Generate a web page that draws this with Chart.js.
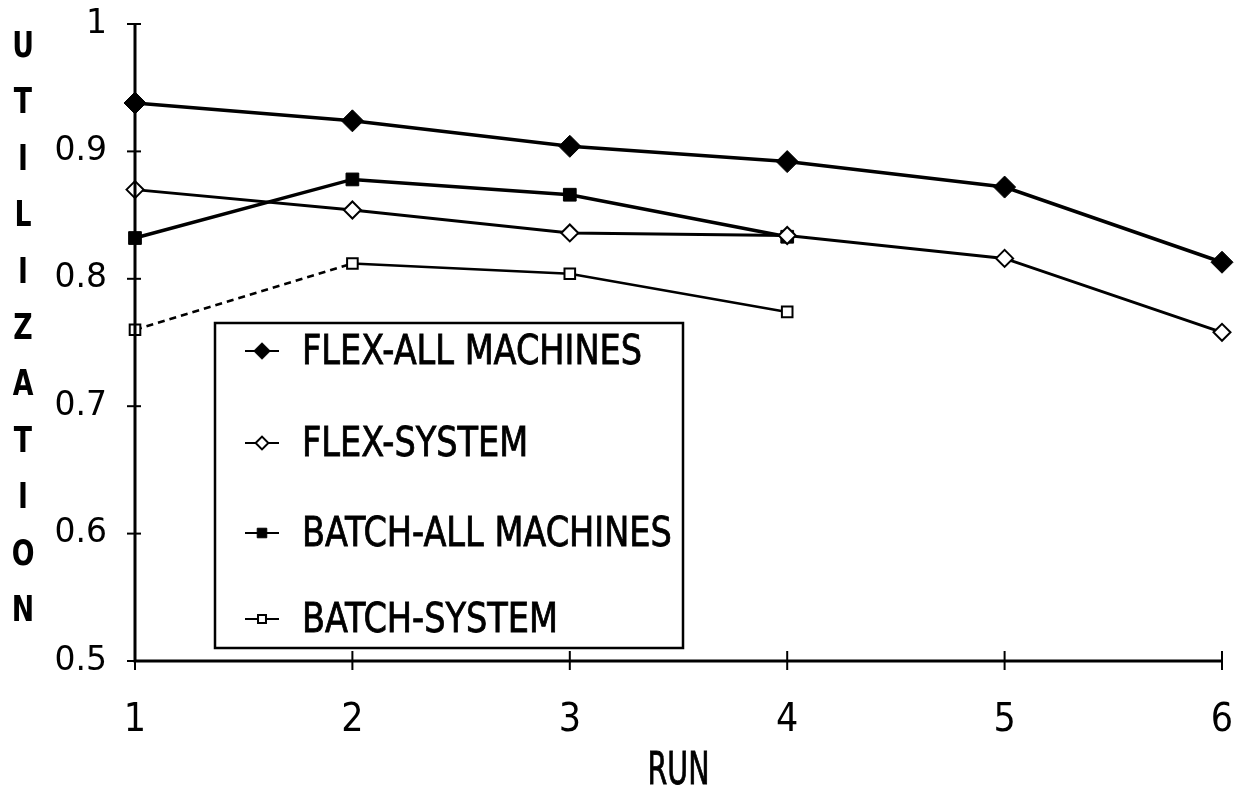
<!DOCTYPE html>
<html>
<head>
<meta charset="utf-8">
<title>Utilization by run</title>
<script src="https://cdn.jsdelivr.net/npm/chart.js@4"></script>
<style>
  html, body { margin: 0; padding: 0; background: #ffffff; }
  canvas { display: block; }
</style>
</head>
<body>
<canvas id="chart" width="1244" height="800"></canvas>
<script>
// Run numbers along the horizontal axis
const runs = [1, 2, 3, 4, 5, 6];

// Utilization per run for each schedule
const flexAllMachines   = [0.938, 0.924, 0.904, 0.892, 0.872, 0.813];
const flexSystem        = [0.870, 0.854, 0.836, 0.834, 0.816, 0.758];
const batchAllMachines  = [0.832, 0.878, 0.866, 0.833];
const batchSystem       = [0.760, 0.812, 0.804, 0.774];

// Axis texts
const yTitleText = 'UTILIZATION';
const xTitleText = 'RUN';
const seriesNames = ['FLEX-ALL MACHINES', 'FLEX-SYSTEM', 'BATCH-ALL MACHINES', 'BATCH-SYSTEM'];

const NARROW = '"Liberation Sans Narrow", "DejaVu Sans Condensed", "Arial Narrow", sans-serif';
const INK = '#000000';

function toPoints(values) {
  return values.map((v, i) => ({ x: runs[i], y: v }));
}

// Draws text squeezed horizontally so it keeps its height but fits a narrower width
function squeezedText(ctx, text, x, y, squeeze, weight) {
  ctx.save();
  ctx.translate(x, y);
  ctx.scale(squeeze, 1);
  ctx.fillText(text, 0, 0);
  if (weight) {
    ctx.lineWidth = weight;
    ctx.strokeStyle = ctx.fillStyle;
    ctx.strokeText(text, 0, 0);
  }
  ctx.restore();
}

// Axis lines with tick marks crossing them, the stacked titles and the boxed legend
const decorations = {
  id: 'decorations',
  afterDraw(chart) {
    const ctx = chart.ctx;
    const area = chart.chartArea;
    const xs = chart.scales.x;
    const ys = chart.scales.y;
    ctx.save();
    ctx.strokeStyle = INK;
    ctx.lineCap = 'butt';

    // axes
    ctx.lineWidth = 3;
    ctx.beginPath();
    ctx.moveTo(area.left, ys.getPixelForValue(1));
    ctx.lineTo(area.left, ys.getPixelForValue(0.5));
    ctx.lineTo(xs.getPixelForValue(6), ys.getPixelForValue(0.5));
    ctx.stroke();

    // tick marks across the axes
    ctx.lineWidth = 2;
    ys.ticks.forEach(t => {
      const py = ys.getPixelForValue(t.value);
      ctx.beginPath();
      ctx.moveTo(area.left - 8, py);
      ctx.lineTo(area.left + 6, py);
      ctx.stroke();
    });
    xs.ticks.forEach(t => {
      const px = xs.getPixelForValue(t.value);
      ctx.beginPath();
      ctx.moveTo(px, ys.getPixelForValue(0.5) - 10);
      ctx.lineTo(px, ys.getPixelForValue(0.5) + 9);
      ctx.stroke();
    });

    // vertical title, one letter per line
    ctx.fillStyle = INK;
    ctx.font = 'bold 35px ' + NARROW;
    ctx.textAlign = 'center';
    ctx.textBaseline = 'middle';
    const letters = yTitleText.split('');
    const firstY = 48, lastY = 612;
    const step = (lastY - firstY) / (letters.length - 1);
    letters.forEach((ch, i) => {
      squeezedText(ctx, ch, 23, firstY + i * step, 0.85);
    });

    // horizontal title, narrow and tall
    ctx.font = '44px ' + NARROW;
    squeezedText(ctx, xTitleText, (area.left + area.right) / 2, 773, 0.72, 0.8);

    // legend box
    const boxL = area.left + 80, boxT = area.top + 299;
    const boxR = area.left + 548, boxB = area.top + 624;
    ctx.lineWidth = 2.5;
    ctx.strokeStyle = INK;
    ctx.strokeRect(boxL, boxT, boxR - boxL, boxB - boxT);

    const rowY = [327, 419, 509, 595].map(v => v + area.top);
    ctx.font = '41px ' + NARROW;
    ctx.textAlign = 'left';
    chart.data.datasets.forEach((ds, i) => {
      const cy = rowY[i];
      const cx = boxL + 47;
      ctx.lineWidth = 2;
      ctx.strokeStyle = INK;
      ctx.setLineDash([]);
      ctx.beginPath();
      ctx.moveTo(cx - 17, cy);
      ctx.lineTo(cx + 17, cy);
      ctx.stroke();
      ctx.fillStyle = ds.pointBackgroundColor;
      ctx.strokeStyle = INK;
      ctx.lineWidth = ds.pointBorderWidth;
      Chart.helpers.drawPoint(ctx, {
        pointStyle: ds.pointStyle,
        radius: ds.pointRadius * 0.75,
        borderWidth: ds.pointBorderWidth,
        rotation: 0
      }, cx, cy);
      ctx.fillStyle = INK;
      squeezedText(ctx, ds.label, boxL + 87, cy + 2, 0.91, 0.8);
    });
    ctx.restore();
  }
};

const chart = new Chart(document.getElementById('chart'), {
  type: 'line',
  data: {
    datasets: [
      {
        label: seriesNames[0],
        data: toPoints(flexAllMachines),
        borderColor: INK,
        borderWidth: 3.5,
        pointStyle: 'rectRot',
        pointRadius: 11,
        pointBackgroundColor: INK,
        pointBorderColor: INK,
        pointBorderWidth: 1,
        clip: false
      },
      {
        label: seriesNames[1],
        data: toPoints(flexSystem),
        borderColor: INK,
        borderWidth: 3,
        pointStyle: 'rectRot',
        pointRadius: 8.5,
        pointBackgroundColor: '#ffffff',
        pointBorderColor: INK,
        pointBorderWidth: 2,
        clip: false
      },
      {
        label: seriesNames[2],
        data: toPoints(batchAllMachines),
        borderColor: INK,
        borderWidth: 3.5,
        pointStyle: 'rect',
        pointRadius: 9,
        pointBackgroundColor: INK,
        pointBorderColor: INK,
        pointBorderWidth: 1,
        clip: false
      },
      {
        label: seriesNames[3],
        data: toPoints(batchSystem),
        borderColor: INK,
        borderWidth: 2.5,
        pointStyle: 'rect',
        pointRadius: 7.5,
        pointBackgroundColor: '#ffffff',
        pointBorderColor: INK,
        pointBorderWidth: 2,
        clip: false,
        segment: {
          borderDash: c => (c.p0DataIndex === 0 ? [7, 5] : undefined)
        }
      }
    ]
  },
  options: {
    responsive: false,
    animation: false,
    events: [],
    layout: { padding: { top: 24, right: 22, left: 0, bottom: 0 } },
    elements: { line: { tension: 0 } },
    plugins: {
      legend: { display: false },
      tooltip: { enabled: false }
    },
    scales: {
      x: {
        type: 'linear',
        min: 1,
        max: 6,
        grid: { display: false },
        border: { display: false },
        ticks: {
          stepSize: 1,
          color: INK,
          padding: 28,
          font: { family: NARROW, size: 39 },
          callback: v => String(v)
        },
        afterFit: s => {
          s.height = 139;
          s.paddingLeft = 0;
          s.paddingRight = 0;
        }
      },
      y: {
        min: 0.5,
        max: 1,
        grid: { display: false },
        border: { display: false },
        ticks: {
          stepSize: 0.1,
          color: INK,
          padding: 20,
          font: { family: '"DejaVu Sans", sans-serif', size: 33 },
          callback: v => String(Number(v.toFixed(1)))
        },
        afterFit: s => {
          s.width = 135;
          s.paddingTop = 0;
          s.paddingBottom = 0;
        }
      }
    }
  },
  plugins: [decorations]
});
</script>
</body>
</html>
